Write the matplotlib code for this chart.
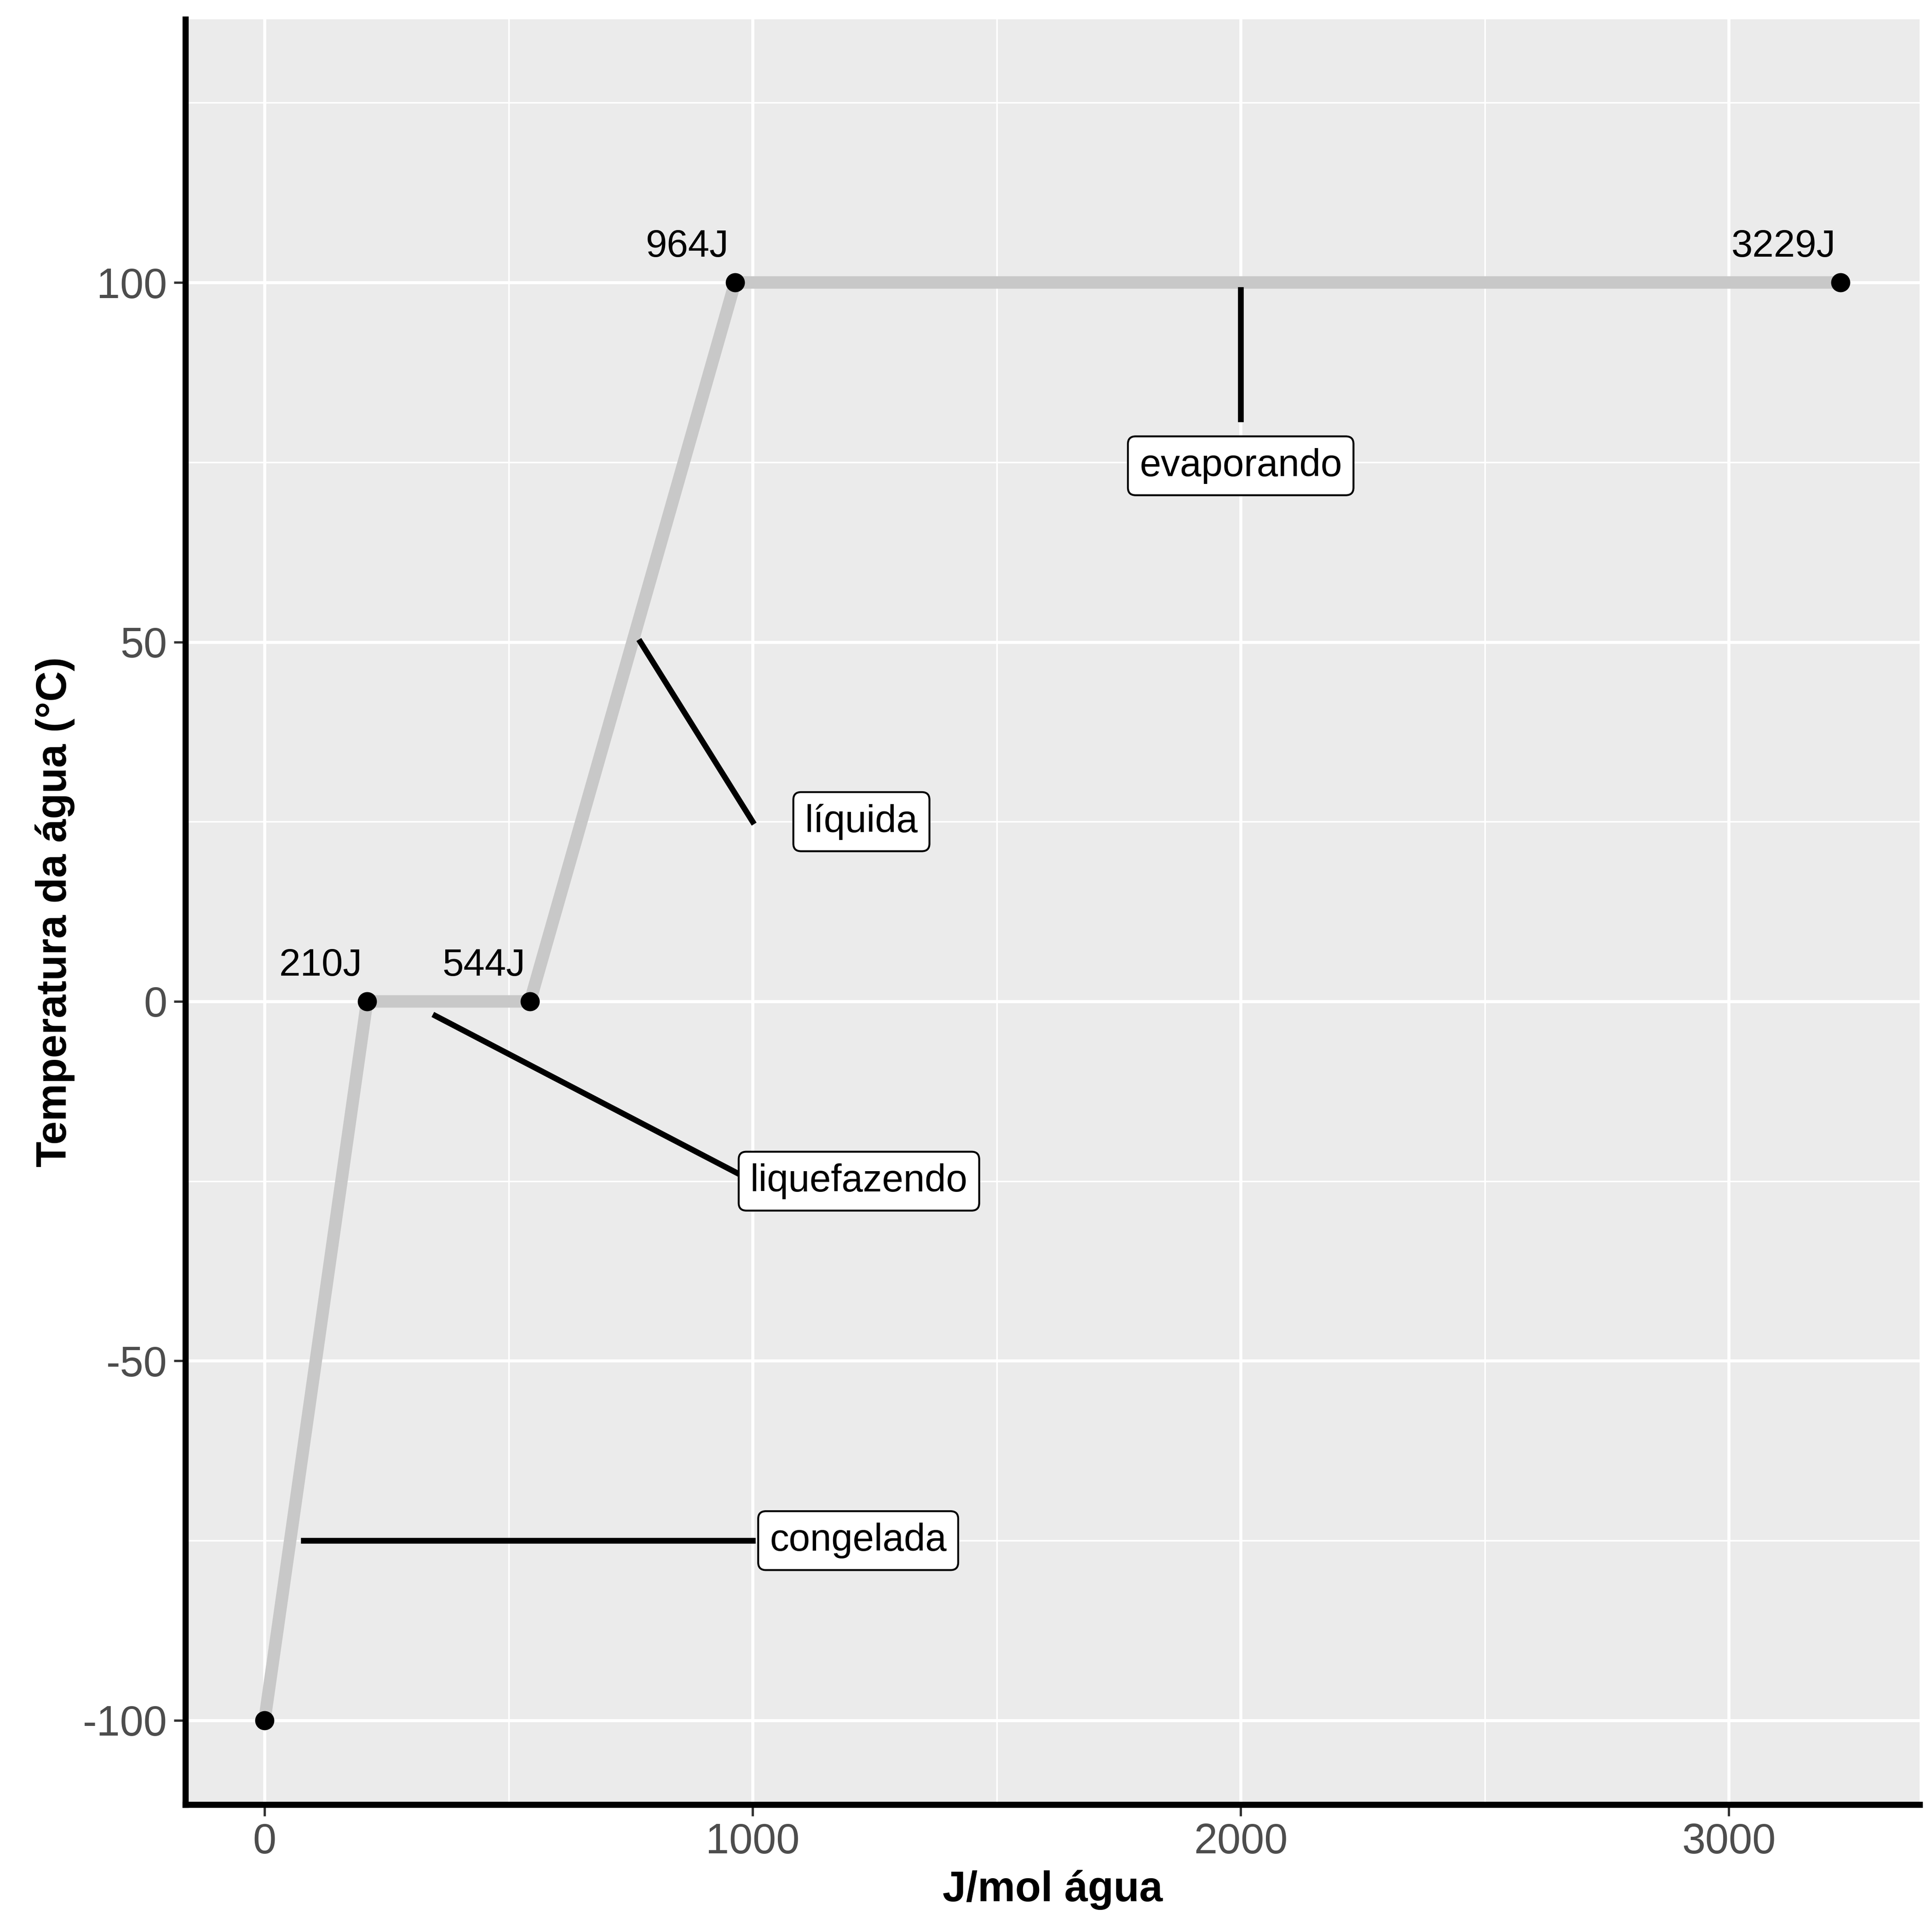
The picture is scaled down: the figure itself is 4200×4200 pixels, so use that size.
import matplotlib
matplotlib.use('Agg')
import matplotlib.pyplot as plt
from matplotlib.ticker import MultipleLocator

plt.rcParams['font.family'] = 'Liberation Sans'
plt.rcParams['axes.unicode_minus'] = False

# heating curve of water
energy = [0, 210, 544, 964, 3229]
temp = [-100, 0, 0, 100, 100]
point_labels = ['', '210J', '544J', '964J', '3229J']
label_x = [0, 115, 449, 866, 3112]

# phase annotations: segment start, segment end, label position
phases = ['congelada', 'liquefazendo', 'líquida', 'evaporando']
seg_x0 = [80, 350, 770, 2000]
seg_y0 = [-75, -2, 50, 99]
seg_x1 = [1000, 1000, 1000, 2000]
seg_y1 = [-75, -25, 25, 81]
lab_x = [1035, 995, 1107, 2000]
lab_y = [-75, -25, 25, 74.5]
lab_ha = ['left', 'left', 'left', 'center']

fig = plt.figure(figsize=(14, 14), dpi=300)
ax = fig.add_axes([0.096, 0.066, 0.8976, 0.924])
ax.set_facecolor('#EBEBEB')

ax.plot(energy, temp, color='#C8C8C8', lw=6.5, solid_capstyle='butt', zorder=2)
ax.plot(energy, temp, 'o', color='black', ms=9, zorder=4)
for lx, y, t in zip(label_x, temp, point_labels):
    if t:
        ax.text(lx, y + 2.5, t, ha='center', va='bottom', fontsize=20)

for i, name in enumerate(phases):
    ax.plot([seg_x0[i], seg_x1[i]], [seg_y0[i], seg_y1[i]], color='black', lw=3, zorder=3)
    ax.text(lab_x[i], lab_y[i], name, ha=lab_ha[i], va='center', fontsize=20, zorder=5,
            bbox=dict(boxstyle='round,pad=0.3,rounding_size=0.2', fc='white', ec='black', lw=1))

ax.set_xlim(-162, 3391)
ax.set_ylim(-111.7, 136.6)
ax.xaxis.set_major_locator(MultipleLocator(1000))
ax.xaxis.set_minor_locator(MultipleLocator(500))
ax.set_yticks([-100, -50, 0, 50, 100])
ax.set_yticks([-75, -25, 25, 75, 125], minor=True)
ax.grid(which='major', color='white', lw=1.6)
ax.grid(which='minor', color='white', lw=0.8)
ax.set_axisbelow(True)

for s in ['top', 'right']:
    ax.spines[s].set_visible(False)
for s in ['left', 'bottom']:
    ax.spines[s].set_linewidth(3.2)
ax.tick_params(which='major', labelsize=22, labelcolor='#4D4D4D', length=6, width=1.2, color='#333333')
ax.tick_params(which='minor', length=0)

ax.set_xlabel('J/mol água', fontsize=22, fontweight='bold')
ax.set_ylabel('Temperatura da água (°C)', fontsize=22, fontweight='bold')

fig.savefig('out.png', dpi=300)
